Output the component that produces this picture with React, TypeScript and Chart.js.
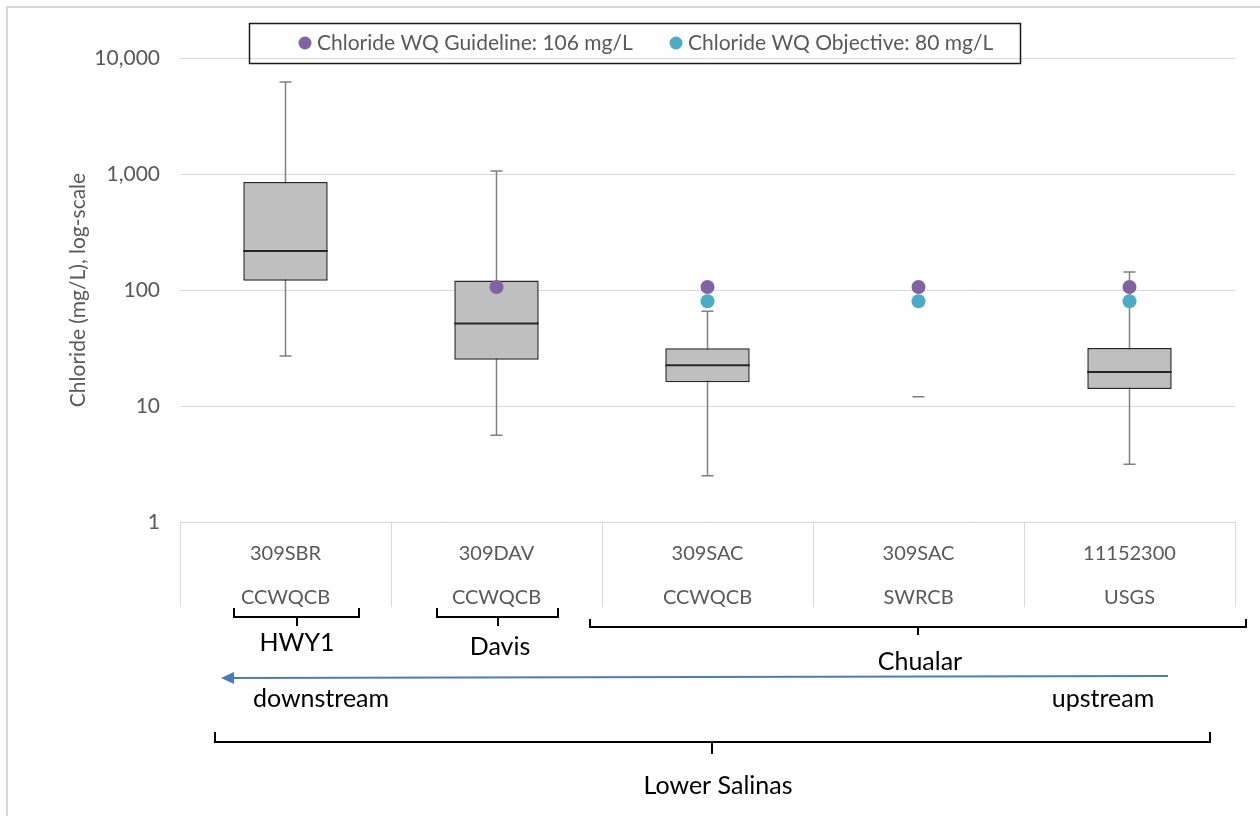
import React, { useEffect, useRef } from "react";
import { Chart, registerables } from "chart.js";

Chart.register(...registerables);

// ---- data ----
const stations = ["309SBR", "309DAV", "309SAC", "309SAC", "11152300"];
const agencies = ["CCWQCB", "CCWQCB", "CCWQCB", "SWRCB", "USGS"];
const whiskerMin = [27, 5.6, 2.5, 12, 3.15];
const q1 = [120, 25, 16, null, 14];
const median = [217, 51.5, 22.5, null, 19.6];
const q3 = [855, 121, 31.4, null, 31.6];
const whiskerMax = [6200, 1060, 65.5, 12, 143];
const guideline = [null, 106, 106, 106, 106];
const objective = [null, null, 80, 80, 80];
const yTicks = [1, 10, 100, 1000, 10000];
const guidelineLabel = "Chloride WQ Guideline: 106 mg/L";
const objectiveLabel = "Chloride WQ Objective: 80 mg/L";
const yTitle = "Chloride (mg/L), log-scale";

const FONT = "Lato, 'Open Sans', sans-serif";
const GRAY_TEXT = "#595959";
const GRID = "#d9d9d9";
const PURPLE = "#8064a2";
const TEAL = "#4bacc6";

const boxPlugin = {
  id: "boxExtras",
  beforeDatasetsDraw(chart: any) {
    const { ctx, scales } = chart;
    const xs = scales.x;
    const ys = scales.y;
    ctx.save();
    ctx.strokeStyle = "#808080";
    ctx.lineWidth = 1.5;
    for (let i = 0; i < stations.length; i++) {
      const x = xs.getPixelForValue(i);
      const yTop = ys.getPixelForValue(whiskerMax[i]);
      const yBot = ys.getPixelForValue(whiskerMin[i]);
      ctx.beginPath();
      ctx.moveTo(x, yTop);
      ctx.lineTo(x, yBot);
      ctx.moveTo(x - 6, yTop);
      ctx.lineTo(x + 6, yTop);
      ctx.moveTo(x - 6, yBot);
      ctx.lineTo(x + 6, yBot);
      ctx.stroke();
    }
    ctx.restore();
  },
  afterDatasetDraw(chart: any, args: any) {
    if (args.meta.type !== "bar") return;
    const { ctx, scales } = chart;
    const ys = scales.y;
    ctx.save();
    ctx.strokeStyle = "#262626";
    ctx.lineWidth = 2;
    args.meta.data.forEach((el: any, i: number) => {
      if (median[i] == null) return;
      const y = ys.getPixelForValue(median[i]);
      ctx.beginPath();
      ctx.moveTo(el.x - el.width / 2, y);
      ctx.lineTo(el.x + el.width / 2, y);
      ctx.stroke();
    });
    ctx.restore();
  },
  afterDraw(chart: any) {
    const { ctx, chartArea, scales } = chart;
    const xs = scales.x;
    ctx.save();
    // outer frame
    ctx.strokeStyle = GRID;
    ctx.lineWidth = 2;
    ctx.beginPath();
    ctx.moveTo(7, 816);
    ctx.lineTo(7, 7);
    ctx.lineTo(1260, 7);
    ctx.stroke();

    // category table separators
    const n = stations.length;
    const cw = (chartArea.right - chartArea.left) / n;
    ctx.lineWidth = 1;
    ctx.strokeStyle = GRID;
    for (let i = 0; i <= n; i++) {
      const x = Math.round(i < n ? xs.getPixelForValue(i) - cw / 2 : xs.getPixelForValue(n - 1) + cw / 2) + 0.5;
      ctx.beginPath();
      ctx.moveTo(x, chartArea.bottom);
      ctx.lineTo(x, chartArea.bottom + 85);
      ctx.stroke();
    }

    // legend
    ctx.strokeStyle = "#1a1a1a";
    ctx.lineWidth = 1.5;
    ctx.strokeRect(249.5, 23.5, 771, 40);
    ctx.font = `21px ${FONT}`;
    ctx.textBaseline = "middle";
    ctx.textAlign = "left";
    const items = [
      { x: 305, color: PURPLE, text: guidelineLabel },
      { x: 676, color: TEAL, text: objectiveLabel },
    ];
    items.forEach((it) => {
      ctx.fillStyle = it.color;
      ctx.beginPath();
      ctx.arc(it.x, 43, 6.5, 0, Math.PI * 2);
      ctx.fill();
      ctx.fillStyle = GRAY_TEXT;
      ctx.fillText(it.text, it.x + 12, 43);
    });

    // brackets
    ctx.strokeStyle = "#000";
    ctx.lineWidth = 2;
    const bracket = (x1: number, x2: number, yTop: number, yMid: number, yTick: number, xc: number) => {
      ctx.beginPath();
      ctx.moveTo(x1, yTop);
      ctx.lineTo(x1, yMid);
      ctx.lineTo(x2, yMid);
      ctx.lineTo(x2, yTop);
      ctx.moveTo(xc, yMid);
      ctx.lineTo(xc, yTick);
      ctx.stroke();
    };
    bracket(234, 359, 608, 617, 626, 297);
    bracket(437, 558, 608, 617, 626, 498);
    bracket(590, 1246, 619, 627, 635, 918);
    bracket(215, 1210, 732, 742, 754, 712);

    // arrow
    ctx.strokeStyle = "#4a7ebb";
    ctx.fillStyle = "#4a7ebb";
    ctx.lineWidth = 2;
    ctx.beginPath();
    ctx.moveTo(1168, 676);
    ctx.lineTo(232, 678);
    ctx.stroke();
    ctx.beginPath();
    ctx.moveTo(221, 678);
    ctx.lineTo(234, 672);
    ctx.lineTo(234, 684);
    ctx.closePath();
    ctx.fill();

    // annotation text
    ctx.fillStyle = "#000";
    ctx.font = `25px ${FONT}`;
    ctx.textAlign = "center";
    ctx.textBaseline = "middle";
    ctx.fillText("HWY1", 297, 643);
    ctx.fillText("Davis", 500, 647);
    ctx.fillText("Chualar", 920, 662);
    ctx.fillText("downstream", 321, 699);
    ctx.fillText("upstream", 1103, 699);
    ctx.fillText("Lower Salinas", 718, 786);
    ctx.restore();
  },
};

export default function App() {
  const canvasRef = useRef<HTMLCanvasElement | null>(null);

  useEffect(() => {
    const canvas = canvasRef.current;
    if (!canvas) return;
    const chart = new Chart(canvas, {
      type: "bar",
      data: {
        labels: stations.map((s, i) => [s, agencies[i]]),
        datasets: [
          {
            type: "line",
            label: guidelineLabel,
            data: guideline,
            showLine: false,
            pointRadius: 7,
            pointHoverRadius: 7,
            pointBackgroundColor: PURPLE,
            pointBorderWidth: 0,
            borderColor: PURPLE,
            order: 0,
          } as any,
          {
            type: "line",
            label: objectiveLabel,
            data: objective,
            showLine: false,
            pointRadius: 7,
            pointHoverRadius: 7,
            pointBackgroundColor: TEAL,
            pointBorderWidth: 0,
            borderColor: TEAL,
            order: 1,
          } as any,
          {
            type: "bar",
            label: "box",
            data: q1.map((v, i) => (v == null ? null : [v, q3[i] as number])),
            backgroundColor: "#bfbfbf",
            borderColor: "#262626",
            borderWidth: 1.5,
            borderSkipped: false,
            barPercentage: 0.4,
            categoryPercentage: 1,
            order: 2,
          } as any,
        ],
      },
      options: {
        responsive: false,
        animation: false,
        devicePixelRatio: 1,
        layout: { padding: { left: 66, top: 58, right: 25, bottom: 189 } },
        plugins: {
          legend: { display: false },
          tooltip: { enabled: false },
          title: { display: false },
        },
        scales: {
          x: {
            type: "category",
            offset: true,
            grid: { display: false },
            border: { display: false },
            ticks: {
              color: GRAY_TEXT,
              font: { family: FONT, size: 20, lineHeight: 44 / 20 },
              padding: 2,
              maxRotation: 0,
              autoSkip: false,
            },
            afterFit: (s: any) => {
              s.height = 105;
            },
          },
          y: {
            type: "logarithmic",
            min: 1,
            max: 10000,
            afterBuildTicks: (s: any) => {
              s.ticks = yTicks.map((v) => ({ value: v }));
            },
            grid: { color: GRID, lineWidth: 1, drawTicks: false },
            border: { display: false },
            ticks: {
              color: GRAY_TEXT,
              font: { family: FONT, size: 21 },
              padding: 20,
              callback: (v: any) => Number(v).toLocaleString("en-US"),
            },
            title: {
              display: true,
              text: yTitle,
              color: GRAY_TEXT,
              font: { family: FONT, size: 21 },
              padding: 0,
            },
            afterFit: (s: any) => {
              s.width = 114;
            },
          },
        },
      } as any,
      plugins: [boxPlugin],
    });
    return () => chart.destroy();
  }, []);

  return (
    <div style={{ position: "absolute", left: 0, top: 0, width: 1260, height: 816, background: "#fff" }}>
      <canvas ref={canvasRef} width={1260} height={816} style={{ display: "block" }} />
    </div>
  );
}
